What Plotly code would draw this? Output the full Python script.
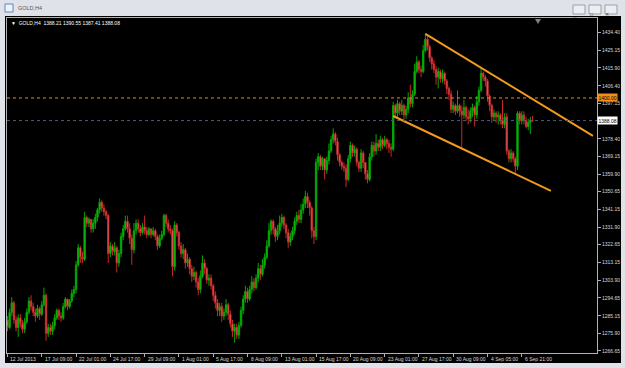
import plotly.graph_objects as go

# ---------------- data ----------------
time_labels = ["12 Jul 2013", "17 Jul 09:00", "22 Jul 01:00", "24 Jul 17:00", "29 Jul 09:00",
               "1 Aug 01:00", "5 Aug 17:00", "8 Aug 09:00", "13 Aug 01:00", "15 Aug 17:00",
               "20 Aug 09:00", "23 Aug 01:00", "27 Aug 17:00", "30 Aug 09:00", "4 Sep 05:00",
               "6 Sep 21:00"]
label_bars = [0, 16, 32, 48, 64, 80, 96, 112, 128, 144, 160, 176, 192, 208, 224, 240]

price_ticks = [1434.40, 1425.15, 1415.90, 1406.40, 1397.15, 1378.40, 1369.15, 1359.90,
               1350.65, 1341.15, 1331.90, 1322.65, 1313.15, 1303.90, 1294.65, 1285.15,
               1275.90, 1266.65]

first_open = 1283
closes = [1279, 1287, 1292, 1283, 1279, 1284, 1281, 1278, 1282, 1287, 1293, 1290, 1287, 1285, 1289, 1286,
          1291, 1296, 1276, 1279, 1277, 1280, 1284, 1288, 1285, 1284, 1290, 1294, 1290, 1293, 1297, 1299,
          1312, 1321, 1316, 1315, 1337, 1334, 1336, 1331, 1334, 1337, 1341, 1345, 1342, 1340, 1338, 1318,
          1322, 1319, 1321, 1313, 1318, 1327, 1331, 1335, 1331, 1326, 1320, 1330, 1334, 1331, 1329, 1332,
          1330, 1328, 1331, 1328, 1330, 1327, 1322, 1326, 1328, 1338, 1334, 1331, 1330, 1311, 1333, 1329,
          1322, 1318, 1320, 1313, 1315, 1310, 1306, 1308, 1303, 1299, 1306, 1313, 1310, 1304, 1305, 1301,
          1296, 1292, 1288, 1290, 1285, 1287, 1291, 1286, 1281, 1277, 1279, 1275, 1280, 1288, 1294, 1298,
          1294, 1299, 1303, 1300, 1305, 1310, 1307, 1312, 1316, 1322, 1330, 1335, 1331, 1327, 1330, 1334,
          1337, 1333, 1329, 1324, 1327, 1330, 1335, 1338, 1336, 1341, 1344, 1348, 1345, 1342, 1330, 1327,
          1366, 1369, 1364, 1368, 1362, 1367, 1372, 1378, 1381, 1377, 1370, 1366, 1364, 1363, 1357, 1368,
          1375, 1371, 1373, 1366, 1363, 1371, 1366, 1360, 1357, 1369, 1375, 1372, 1376, 1374, 1378, 1375,
          1378, 1376, 1374, 1373, 1396, 1392, 1397, 1393, 1396, 1391, 1394, 1400, 1397, 1402, 1414, 1419,
          1415, 1414, 1425, 1431, 1427, 1421, 1418, 1415, 1411, 1414, 1410, 1413, 1409, 1405, 1402, 1394,
          1396, 1393, 1396, 1393, 1391, 1395, 1390, 1389, 1393, 1395, 1391, 1398, 1404, 1413, 1411, 1409,
          1401, 1396, 1390, 1392, 1390, 1391, 1388, 1386, 1390, 1372, 1368, 1371, 1368, 1364, 1392, 1388,
          1391, 1388, 1385, 1387, 1388.21, 1388.08]
highs = [1285, 1289, 1295, 1293, 1285, 1286, 1286, 1283, 1284, 1289, 1295, 1296, 1292, 1289, 1291, 1290,
         1293, 1300, 1297, 1281, 1281, 1282, 1286, 1289, 1289, 1287, 1292, 1295, 1294, 1294, 1299, 1301,
         1314, 1323, 1322, 1319, 1340, 1338, 1337, 1336, 1336, 1339, 1342, 1347, 1346, 1344, 1341, 1339,
         1324, 1323, 1324, 1322, 1320, 1329, 1333, 1338, 1338, 1334, 1328, 1334, 1336, 1336, 1333, 1334,
         1338, 1332, 1332, 1331, 1332, 1331, 1328, 1328, 1330, 1339, 1339, 1336, 1333, 1331, 1335, 1334,
         1330, 1324, 1323, 1321, 1318, 1316, 1312, 1311, 1309, 1305, 1309, 1317, 1315, 1311, 1307, 1307,
         1302, 1298, 1294, 1292, 1292, 1289, 1294, 1292, 1288, 1283, 1281, 1281, 1282, 1290, 1296, 1301,
         1300, 1301, 1306, 1305, 1307, 1313, 1312, 1315, 1318, 1325, 1334, 1336, 1336, 1332, 1333, 1338,
         1339, 1338, 1334, 1331, 1329, 1332, 1337, 1340, 1341, 1344, 1347, 1351, 1350, 1346, 1343, 1332,
         1368, 1371, 1370, 1369, 1368, 1369, 1376, 1380, 1384, 1382, 1379, 1371, 1367, 1366, 1365, 1370,
         1377, 1376, 1375, 1374, 1367, 1373, 1372, 1366, 1362, 1371, 1377, 1377, 1381, 1378, 1380, 1379,
         1380, 1379, 1378, 1376, 1398, 1397, 1399, 1398, 1399, 1397, 1396, 1403, 1407, 1404, 1418, 1422,
         1420, 1417, 1428, 1434, 1433, 1428, 1422, 1420, 1417, 1416, 1415, 1415, 1414, 1410, 1406, 1404,
         1398, 1397, 1404, 1397, 1396, 1399, 1396, 1394, 1395, 1397, 1396, 1401, 1406, 1416, 1414, 1412,
         1410, 1402, 1397, 1394, 1393, 1393, 1392, 1399, 1392, 1392, 1373, 1373, 1372, 1369, 1393, 1393,
         1393, 1393, 1390, 1389, 1390, 1390.55]
lows = [1277, 1278, 1285, 1281, 1277, 1274, 1279, 1276, 1276, 1281, 1286, 1288, 1285, 1282, 1284, 1283,
        1285, 1290, 1272, 1274, 1275, 1275, 1278, 1283, 1283, 1282, 1283, 1289, 1288, 1289, 1292, 1295,
        1297, 1311, 1313, 1313, 1314, 1332, 1332, 1329, 1329, 1331, 1335, 1339, 1340, 1338, 1336, 1313,
        1316, 1317, 1317, 1308, 1311, 1316, 1325, 1330, 1329, 1323, 1312, 1318, 1328, 1329, 1327, 1328,
        1328, 1326, 1327, 1326, 1327, 1325, 1320, 1321, 1325, 1327, 1332, 1329, 1328, 1306, 1309, 1327,
        1320, 1316, 1315, 1310, 1311, 1307, 1303, 1304, 1300, 1296, 1297, 1305, 1307, 1302, 1301, 1299,
        1293, 1289, 1285, 1285, 1282, 1283, 1285, 1283, 1279, 1274, 1271, 1273, 1273, 1279, 1286, 1292,
        1292, 1293, 1297, 1298, 1299, 1303, 1304, 1306, 1310, 1315, 1321, 1328, 1328, 1324, 1325, 1328,
        1332, 1331, 1326, 1321, 1322, 1325, 1328, 1333, 1334, 1334, 1339, 1342, 1342, 1338, 1326, 1323,
        1325, 1362, 1362, 1362, 1357, 1360, 1365, 1371, 1376, 1375, 1367, 1364, 1362, 1361, 1353, 1356,
        1366, 1369, 1369, 1364, 1361, 1361, 1363, 1357, 1355, 1356, 1367, 1369, 1370, 1372, 1372, 1373,
        1374, 1373, 1371, 1369, 1372, 1390, 1390, 1391, 1391, 1388, 1389, 1392, 1395, 1395, 1401, 1413,
        1413, 1411, 1413, 1424, 1425, 1419, 1415, 1413, 1407, 1405, 1408, 1408, 1407, 1402, 1399, 1392,
        1392, 1391, 1392, 1390, 1373, 1389, 1388, 1386, 1387, 1390, 1385, 1389, 1396, 1403, 1409, 1406,
        1398, 1393, 1387, 1388, 1387, 1386, 1386, 1384, 1384, 1370, 1366, 1366, 1366, 1360, 1362, 1386,
        1386, 1386, 1384, 1383, 1381, 1387.41]

opens = [first_open] + closes[:-1]
bars = list(range(len(closes)))

level_orange = 1400.00
level_bid = 1388.08
upper_x, upper_y = [195, 273.2], [1433.8, 1380.0]
lower_x, lower_y = [180, 253.6], [1390.5, 1351.0]
x_range = [-0.23, 275.1]
y_range = [1265.55, 1442.15]

# ---------------- geometry helpers (decoration only) ----------------
W, H = 625, 368
ML, MR, MT, MB = 7, 28, 18, 15
PW, PH = W - ML - MR, H - MT - MB


def px(x):
    return (x - ML) / PW


def py(y):
    return (H - MB - y) / PH


FONT = "Liberation Sans, Arial, sans-serif"

fig = go.Figure()
fig.add_trace(go.Candlestick(
    x=bars, open=opens, high=highs, low=lows, close=closes,
    increasing=dict(line=dict(color="#00a800", width=1), fillcolor="#14c014"),
    decreasing=dict(line=dict(color="#c82828", width=1), fillcolor="#ff8484"),
    whiskerwidth=0, hoverinfo="skip"))

for xs, ys in ((upper_x, upper_y), (lower_x, lower_y)):
    fig.add_trace(go.Scatter(x=xs, y=ys, mode="lines",
                             line=dict(color="#f39a1e", width=2), hoverinfo="skip"))

shapes = [
    # black terminal panel
    dict(type="rect", xref="paper", yref="paper", x0=px(5), x1=px(621), y0=py(363), y1=py(16),
         fillcolor="#000000", line=dict(width=0), layer="below"),
    # horizontal levels
    dict(type="line", xref="paper", yref="y", x0=0, x1=1, y0=level_orange, y1=level_orange,
         line=dict(color="#e8891c", width=1, dash="dot")),
    dict(type="line", xref="paper", yref="y", x0=0, x1=1, y0=level_bid, y1=level_bid,
         line=dict(color="#4e5c74", width=1, dash="dot")),
    # chart shift marker
    dict(type="path", xref="paper", yref="paper",
         path=f"M {px(535)},{py(19)} L {px(541)},{py(19)} L {px(538)},{py(24)} Z",
         fillcolor="#808080", line=dict(width=0)),
    # title bar icon
    dict(type="rect", xref="paper", yref="paper", x0=px(5), x1=px(13), y0=py(12), y1=py(4),
         fillcolor="#eef4fb", line=dict(color="#5a86c0", width=1)),
]
# window buttons
for bx in (573, 589, 605):
    shapes.append(dict(type="rect", xref="paper", yref="paper", x0=px(bx), x1=px(bx + 12),
                       y0=py(14), y1=py(5), fillcolor="#eceef2",
                       line=dict(color="#9aa0aa", width=1)))

annotations = [
    dict(text="GOLD,H4", xref="paper", yref="paper", x=px(16), y=py(8.5), xanchor="left",
         yanchor="middle", showarrow=False, font=dict(family=FONT, size=5.5, color="#555555")),
    dict(text="▼  GOLD,H4  1388.21 1390.55 1387.41 1388.08", xref="paper", yref="paper",
         x=px(9), y=py(23), xanchor="left", yanchor="middle", showarrow=False,
         font=dict(family=FONT, size=5, color="#ffffff")),
    dict(text="1400.00", xref="paper", yref="y", x=1, y=level_orange, xanchor="left",
         yanchor="middle", showarrow=False, bgcolor="#f0901c", borderpad=0.5,
         font=dict(family=FONT, size=5, color="#000000")),
    dict(text="1388.08", xref="paper", yref="y", x=1, y=level_bid, xanchor="left",
         yanchor="middle", showarrow=False, bgcolor="#ffffff", borderpad=0.5,
         font=dict(family=FONT, size=5, color="#000000")),
    dict(text="_", xref="paper", yref="paper", x=px(579), y=py(10), showarrow=False,
         font=dict(family=FONT, size=5, color="#444")),
    dict(text="□", xref="paper", yref="paper", x=px(595), y=py(9.5), showarrow=False,
         font=dict(family=FONT, size=5, color="#444")),
    dict(text="✕", xref="paper", yref="paper", x=px(611), y=py(9.5), showarrow=False,
         font=dict(family=FONT, size=5, color="#444")),
]
for b, t in zip(label_bars, time_labels):
    annotations.append(dict(text=t, xref="x", yref="paper", x=b, y=py(354), xanchor="left",
                            yanchor="top", xshift=1, showarrow=False,
                            font=dict(family=FONT, size=5, color="#d8d8d8")))

fig.update_layout(
    width=W, height=H, autosize=False,
    margin=dict(l=ML, r=MR, t=MT, b=MB, pad=0),
    paper_bgcolor="#dfe3e9", plot_bgcolor="#000000",
    showlegend=False, shapes=shapes, annotations=annotations,
    boxgap=0.1,
    font=dict(family=FONT, size=5, color="#d8d8d8"),
    xaxis=dict(type="linear", range=x_range, rangeslider=dict(visible=False),
               showgrid=False, zeroline=False, showline=True, mirror=True,
               linecolor="#b0b0b0", linewidth=1, ticks="outside", ticklen=3,
               tickcolor="#b0b0b0", tickvals=label_bars, showticklabels=False,
               automargin=False, fixedrange=True),
    yaxis=dict(range=y_range, side="right", showgrid=False, zeroline=False,
               showline=True, mirror=True, linecolor="#b0b0b0", linewidth=1,
               ticks="outside", ticklen=3, tickcolor="#b0b0b0",
               tickvals=price_ticks, ticktext=[f"{v:.2f}" for v in price_ticks],
               tickfont=dict(family=FONT, size=5, color="#d8d8d8"),
               automargin=False, fixedrange=True),
)

fig.write_html("out.html")
